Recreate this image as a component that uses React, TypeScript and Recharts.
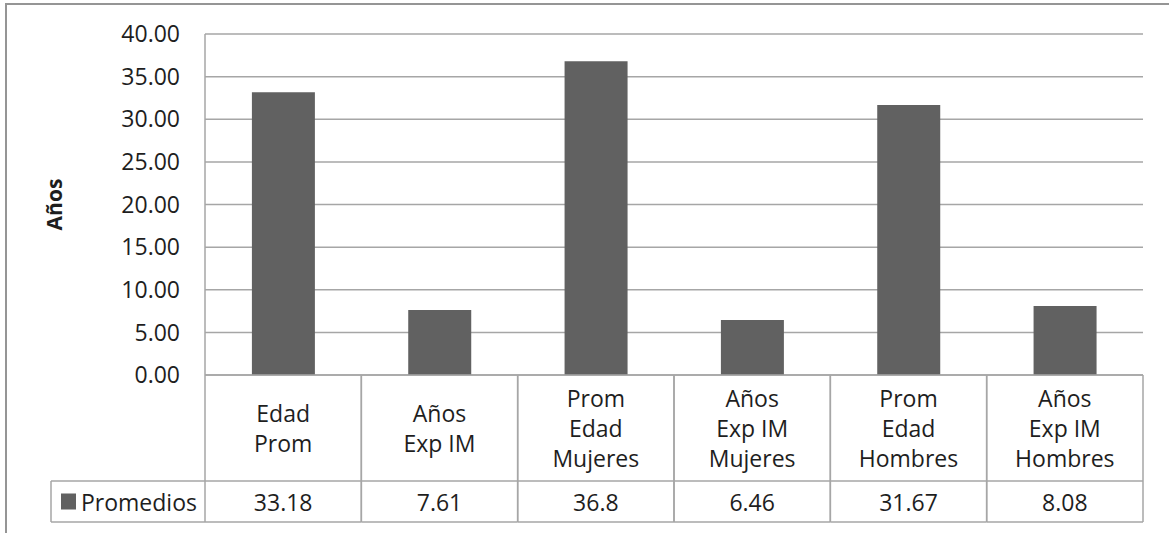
import { BarChart, Bar, XAxis, YAxis, CartesianGrid } from 'recharts';

const categories = [
  'Edad\nProm',
  'Años\nExp IM',
  'Prom\nEdad\nMujeres',
  'Años\nExp IM\nMujeres',
  'Prom\nEdad\nHombres',
  'Años\nExp IM\nHombres',
];
const promedios = [33.18, 7.61, 36.8, 6.46, 31.67, 8.08];
const yTicks = [0, 5, 10, 15, 20, 25, 30, 35, 40];
const seriesName = 'Promedios';
const axisTitle = 'Años';

const data = categories.map((name, i) => ({ name, promedios: promedios[i] }));

const FONT = '"Open Sans", "Noto Sans", sans-serif';
const BAR = '#616161';
const LINE = '#a6a6a6';
const TEXT = '#1e1e1e';

// table under the plot: category row + values row + legend cell
function TableTick(props: any) {
  const { x, y, payload, width } = props;
  const i = payload.index;
  const cw = (width || 938) / categories.length;
  const left = x - cw / 2;
  const right = x + cw / 2;
  const headH = 106;
  const rowH = 41;
  const lines = String(payload.value).split('\n');
  const lh = 30;
  const startY = y + headH / 2 - ((lines.length - 1) * lh) / 2;
  const rowY = y + headH + rowH / 2;
  const legLeft = left - 154;

  return (
    <g fontFamily={FONT} fontSize={23} fill={TEXT}>
      <line x1={left} x2={left} y1={y} y2={y + headH + rowH} stroke={LINE} strokeWidth={1.5} />
      <line x1={right} x2={right} y1={y} y2={y + headH + rowH} stroke={LINE} strokeWidth={1.5} />
      <line x1={left} x2={right} y1={y + headH} y2={y + headH} stroke={LINE} strokeWidth={1.5} />
      <line x1={left} x2={right} y1={y + headH + rowH} y2={y + headH + rowH} stroke={LINE} strokeWidth={1.5} />
      {lines.map((l, k) => (
        <text key={k} x={x} y={startY + k * lh} textAnchor="middle" dominantBaseline="central" fill={TEXT}>
          {l}
        </text>
      ))}
      <text x={x} y={rowY} textAnchor="middle" dominantBaseline="central" fill={TEXT}>
        {String(promedios[i])}
      </text>
      {i === 0 && (
        <g>
          <line x1={legLeft} x2={left} y1={y + headH} y2={y + headH} stroke={LINE} strokeWidth={1.5} />
          <line x1={legLeft} x2={left} y1={y + headH + rowH} y2={y + headH + rowH} stroke={LINE} strokeWidth={1.5} />
          <line x1={legLeft} x2={legLeft} y1={y + headH} y2={y + headH + rowH} stroke={LINE} strokeWidth={1.5} />
          <rect x={legLeft + 10} y={rowY - 8} width={15} height={16} fill={BAR} />
          <text x={legLeft + 30} y={rowY} dominantBaseline="central" fill={TEXT}>
            {seriesName}
          </text>
        </g>
      )}
    </g>
  );
}

function AxisTitle(props: any) {
  const vb = props.viewBox;
  const cx = vb.x - 41;
  const cy = vb.y + vb.height / 2;
  return (
    <text
      x={cx}
      y={cy}
      transform={`rotate(-90, ${cx}, ${cy})`}
      textAnchor="middle"
      dominantBaseline="central"
      fontFamily={FONT}
      fontSize={21}
      fontWeight="bold"
      fill={TEXT}
    >
      {axisTitle}
    </text>
  );
}

export default function App() {
  return (
    <div style={{ position: 'absolute', left: 0, top: 0, width: 1169, height: 533, background: '#fff', overflow: 'hidden' }}>
      <div
        style={{
          position: 'absolute',
          left: 5,
          top: 3,
          width: 1300,
          height: 700,
          borderLeft: '2px solid #959595',
          borderTop: '2px solid #959595',
        }}
      />
      <div style={{ position: 'absolute', left: 0, top: 0 }}>
        <BarChart
          width={1169}
          height={533}
          data={data}
          margin={{ top: 34, right: 26, bottom: 11, left: 95 }}
          barCategoryGap="30%"
        >
          <CartesianGrid vertical={false} stroke={LINE} strokeWidth={1.5} />
          <XAxis
            dataKey="name"
            interval={0}
            height={147}
            tickLine={false}
            tickSize={0}
            tickMargin={0}
            axisLine={{ stroke: LINE, strokeWidth: 1.5 }}
            tick={<TableTick />}
          />
          <YAxis
            domain={[0, 40]}
            ticks={yTicks}
            width={110}
            tickLine={false}
            tickSize={0}
            tickMargin={25}
            axisLine={{ stroke: LINE, strokeWidth: 1.5 }}
            tickFormatter={(v: number) => v.toFixed(2)}
            tick={{ fontFamily: FONT, fontSize: 23, fill: TEXT }}
            label={<AxisTitle />}
          />
          <Bar dataKey="promedios" name={seriesName} fill={BAR} isAnimationActive={false} />
        </BarChart>
      </div>
    </div>
  );
}
